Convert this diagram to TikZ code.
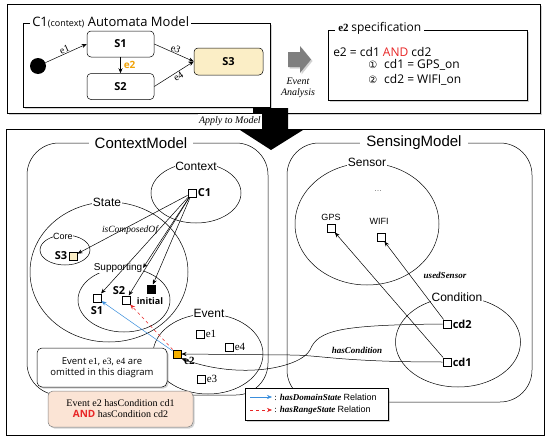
\documentclass[tikz,border=0pt]{standalone}
\usepackage{fontspec}
\setmainfont{Liberation Serif}
\setsansfont{Liberation Sans}
\newfontfamily\nsf{Open Sans}
\newfontfamily\djv{DejaVu Sans}
\usetikzlibrary{shapes.geometric,arrows.meta,shadows}
\newcommand\myfs[1]{\fontsize{#1}{#1}\selectfont}
\definecolor{ylw}{HTML}{FBEEC6}
\definecolor{amb}{HTML}{F5B000}
\definecolor{oran}{HTML}{F0A30A}
\definecolor{peach}{HTML}{FBE4D5}
\definecolor{myblue}{HTML}{3A8EDC}
\definecolor{myred}{HTML}{E82626}
\definecolor{arrgray}{HTML}{7F7F7F}
\begin{document}
\begin{tikzpicture}[x=1pt,y=-1pt, line width=0.5pt,
  arr/.style={-{Stealth[length=5pt,width=4pt]}},
  sq/.style={draw, fill=white, minimum size=8.5pt, inner sep=0pt},
  ell/.style={draw, ellipse, inner sep=0pt},
  elab/.style={font=\sffamily\myfs{12}, fill=white, inner sep=0.5pt},
  bl/.style={font=\nsf\bfseries\myfs{11}, inner sep=1pt},
  el/.style={font=\rmfamily\myfs{11}, inner sep=1pt},
  stbox/.style={draw, fill=white, rounded corners=4pt, minimum width=67pt, minimum height=26pt, font=\nsf\bfseries\myfs{11}},
  shd/.style={drop shadow={shadow xshift=1.5pt, shadow yshift=-1.5pt, opacity=0.35}},
  rel/.style={font=\rmfamily\itshape\bfseries\myfs{9}, inner sep=1pt},
]
\useasboundingbox (0,0) rectangle (550,439);
\fill[white] (0,0) rectangle (550,439);

% ---------- top part ----------
\path[draw, fill=white, shd] (7,4) rectangle (540,113);
\path[draw, fill=white, shd] (23,23) rectangle (270,107);
\node[anchor=west, fill=white, inner xsep=2pt, inner ysep=1pt, font=\nsf\myfs{13}] (amtitle) at (30,22) {C1{\myfs{9}(context)} Automata Model};

\node[circle, fill=black, minimum size=16pt, inner sep=0pt] (init) at (38,66) {};
\node[stbox] (s1) at (120.5,44) {S1};
\node[stbox] (s2) at (120.5,86.5) {S2};
\node[stbox, fill=ylw, minimum width=69pt, minimum height=27pt] (s3) at (228.5,61.5) {S3};

\draw[arr] (init) -- node[sloped, above, inner sep=0.5pt, font=\rmfamily\myfs{10}] {e1} (s1.west);
\draw[arr] (s1) -- node[right=3pt, font=\nsf\bfseries\myfs{10}, text=oran, inner sep=0pt] {e2} (s2);
\draw[arr] (s1.east) -- node[sloped, above, inner sep=0.5pt, font=\rmfamily\myfs{10}] {e3} (s3.west);
\draw[arr] (s2.east) -- node[sloped, below, pos=0.55, inner sep=1pt, font=\rmfamily\myfs{10}] {e4} (s3.west);

\path[fill=arrgray, shd] (288,52) -- (300,52) -- (300,46) -- (311,59.5) -- (300,73) -- (300,67) -- (288,67) -- cycle;
\node[align=center, font=\rmfamily\itshape\myfs{10}, inner sep=0pt] (ea) at (298,87.5) {Event\\[1pt]Analysis};

\path[draw, fill=white, shd] (328,30) rectangle (527,100);
\node[anchor=west, fill=white, inner xsep=3pt, inner ysep=1pt] (spect) at (335,28) {\rmfamily\bfseries\myfs{11}e2 {\nsf\mdseries\myfs{12}specification}};
\node[anchor=west, font=\nsf\myfs{12}, inner sep=0pt] (eq) at (333,52) {e2 = cd1 \textcolor{myred}{AND} cd2};
\node[anchor=west, font=\nsf\myfs{12}, inner sep=0pt] (eq1) at (368,65) {{\djv\myfs{10}①}\hspace{7pt}cd1 = GPS\_on};
\node[anchor=west, font=\nsf\myfs{12}, inner sep=0pt] (eq2) at (368,80) {{\djv\myfs{10}②}\hspace{7pt}cd2 = WIFI\_on};

% ---------- bottom part ----------
\path[draw, fill=white] (6,129) rectangle (544,435);
\fill (253,108) -- (288,108) -- (288,130) -- (303,130) -- (271,150) -- (240,130) -- (253,130) -- cycle;
\node[fill=white, inner sep=1pt, minimum height=15pt, anchor=east, font=\rmfamily\itshape\myfs{10}] (apply) at (262,121) {Apply to Model};
\draw (apply.north east) -- (apply.south east);

\draw[rounded corners=32pt] (27,143) rectangle (268,395);
\node[fill=white, inner xsep=6pt, inner ysep=1pt, font=\sffamily\myfs{15}] (cmt) at (141,143) {ContextModel};
\draw[rounded corners=32pt] (287,143) rectangle (532,402);
\node[fill=white, inner xsep=6pt, inner ysep=1pt, font=\sffamily\myfs{15}] (smt) at (414,143) {SensingModel};

% ellipses
\node[ell, minimum width=90pt, minimum height=60pt] (context) at (196,193) {};
\node[ell, minimum width=158pt, minimum height=140pt] (state) at (109,272) {};
\node[ell, minimum width=50pt, minimum height=30pt] (core) at (65,250) {};
\node[ell, minimum width=92pt, minimum height=64pt] (supp) at (124,300) {};
\node[ell, minimum width=110pt, minimum height=80pt] (event) at (208,354) {};
\node[ell, minimum width=144pt, minimum height=122pt] (sensor) at (367,224) {};
\node[ell, minimum width=125pt, minimum height=90pt] (cond) at (458,342) {};

\node[elab] (lcontext) at (196,166) {Context};
\node[elab] (lstate) at (107,202) {State};
\node[elab, font=\sffamily\myfs{9}] (lcore) at (63,236) {Core};
\node[elab, font=\sffamily\myfs{10}] (lsupp) at (118,268) {Supporting};
\node[elab] (levent) at (209,313) {Event};
\node[elab] (lsensor) at (367,162) {Sensor};
\node[elab] (lcond) at (457,297) {Condition};
\node[font=\sffamily\myfs{9}, text=gray, inner sep=0pt] (dots) at (378,191) {...};
\node[font=\sffamily\myfs{9}, inner sep=0pt] (lgps) at (331,217) {GPS};
\node[font=\sffamily\myfs{9}, inner sep=0pt] (lwifi) at (379,221) {WIFI};

% instances
\node[sq] (c1) at (192,193) {};
\node[bl, anchor=west] at (c1.east) {C1};
\node[sq, fill=ylw] (s3sq) at (73,256) {};
\node[bl, anchor=east] at (s3sq.west) {S3};
\node[sq] (s1sq) at (97,298) {};
\node[bl] at (97,311) {S1};
\node[sq] (s2sq) at (126,300) {};
\node[bl] at (119,291) {S2};
\node[sq, fill=black] (inisq) at (151,289) {};
\node[bl, font=\nsf\bfseries\myfs{9}] at (150,301) {initial};

\node[sq] (e1) at (200,334) {};
\node[el, anchor=west] at (e1.east) {e1};
\node[sq] (e4) at (229,347) {};
\node[el, anchor=west] at (e4.east) {e4};
\node[sq] (e3) at (201,379) {};
\node[el, anchor=west] at (e3.east) {e3};
\node[sq, fill=amb] (e2) at (177,354) {};
\node[el, font=\rmfamily\bfseries\myfs{11}, anchor=west] at (183,361) {e2};

\node[sq] (gps) at (331,228) {};
\node[sq] (wifi) at (381,237) {};
\node[sq] (cd2) at (447,324) {};
\node[bl, anchor=west] at (cd2.east) {cd2};
\node[sq] (cd1) at (447,362) {};
\node[bl, anchor=west] at (cd1.east) {cd1};

% relations
\coordinate (suppt) at (143,268);
\draw[arr] (c1) -- (s3sq);
\draw[arr] (c1) -- (suppt);
\draw[arr] (c1) -- (s1sq);
\draw[arr] (c1) -- (s2sq);
\draw[arr] (c1) -- (inisq);
\node[font=\rmfamily\itshape\myfs{9.5}, inner sep=1pt] (liscomp) at (130,230) {isComposedOf};

\draw[arr] (cd1) -- (gps);
\draw[arr] (cd2) -- (wifi);
\node[rel] (lused) at (445,275) {usedSensor};

\draw[arr] (cd1.west) .. controls (340,362) and (320,355) .. (290,355) -- (e2.east);
\draw[arr] (cd2.west) .. controls (340,325) and (318,330) .. (310,350) .. controls (300,368) and (240,380) .. (e2.south east);
\node[rel] (lhascond) at (357,350) {hasCondition};

\draw[arr, myblue] (e2) -- (s1sq);
\draw[arr, myred, dashed] (e2) -- (s2sq);

% boxes
\node[draw, rounded corners=5pt, fill=white, shd, minimum width=130pt, minimum height=39pt, align=center, font=\nsf\myfs{9.5}, inner sep=0pt] (omit) at (102,367.5) {Event \textrm{e1}, \textrm{e3}, \textrm{e4} are\\[2pt]omitted in this diagram};
\node[draw=gray, rounded corners=5pt, fill=peach, shd, minimum width=145pt, minimum height=36pt, align=center, font=\rmfamily\myfs{10}, inner sep=0pt] (orbox) at (120.5,409) {Event e2 hasCondition cd1\\[1pt]\textcolor{myred}{\nsf\bfseries AND} hasCondition cd2};

\node[draw, fill=white, shd, minimum width=143pt, minimum height=32pt] (leg) at (316.5,404) {};
\coordinate (l1a) at (250,397);
\coordinate (l1b) at (272,397);
\coordinate (l2a) at (250,410);
\coordinate (l2b) at (272,410);
\draw[arr, myblue] (l1a) -- (l1b);
\draw[arr, myred, dashed] (l2a) -- (l2b);
\node[anchor=west, inner sep=1pt, font=\rmfamily\myfs{9}] (lg1) at (273,397) {: \textbf{\textit{hasDomainState}} {\sffamily Relation}};
\node[anchor=west, inner sep=1pt, font=\rmfamily\myfs{9}] (lg2) at (273,410) {: \textbf{\textit{hasRangeState}} {\sffamily Relation}};
\end{tikzpicture}
\end{document}
